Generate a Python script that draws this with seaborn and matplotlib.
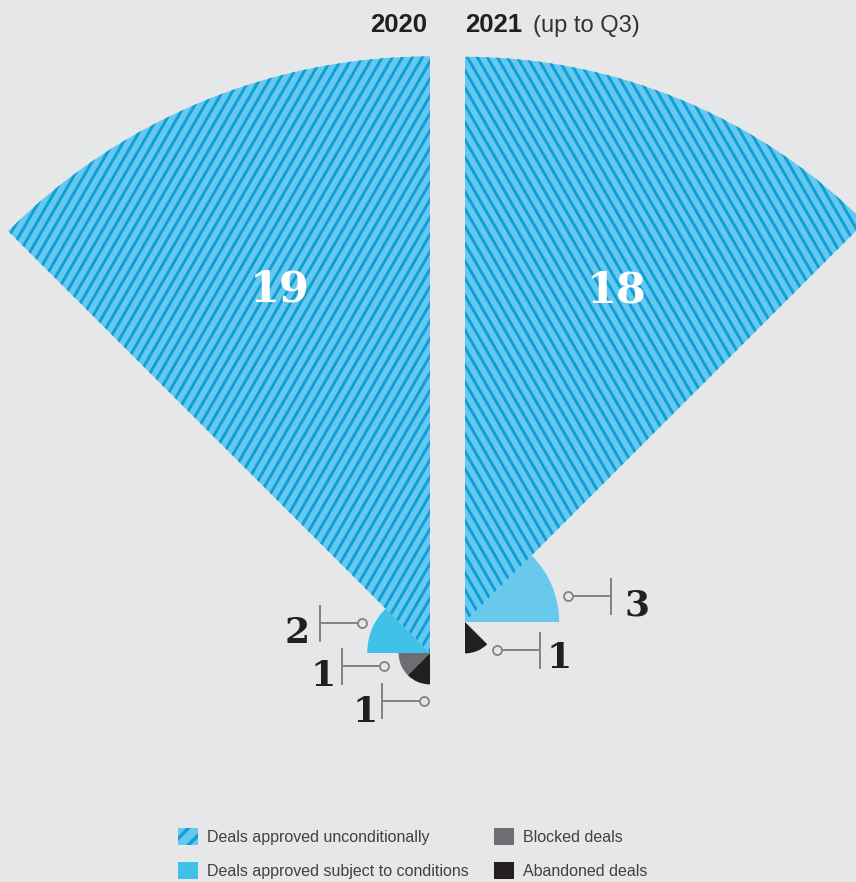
import numpy as np
import matplotlib
matplotlib.use("Agg")
import matplotlib.pyplot as plt
import seaborn as sns
from matplotlib.collections import LineCollection
from matplotlib.patches import Patch
from matplotlib.path import Path

# ---------------- data ----------------
categories = ["Deals approved unconditionally",
              "Deals approved subject to conditions",
              "Blocked deals",
              "Abandoned deals"]
values_2020 = [19, 2, 1, 1]
values_2021 = [18, 3, 0, 1]
year_labels = ["2020", "2021"]
subtitle_2021 = "(up to Q3)"

# ---------------- style ----------------
BG = "#e6e7e8"
HATCH_BASE = "#66c8ec"
HATCH_DARK = "#0c9fd8"
COND_2020 = "#3fc1e8"
COND_2021 = "#68c9ec"
BLOCKED = "#6d6e71"
ABANDONED = "#231f20"
GREY = "#808285"
INK = "#231f20"

sns.set_theme(style="white", rc={"figure.facecolor": BG, "axes.facecolor": BG,
                                 "savefig.facecolor": BG, "hatch.linewidth": 2.4})
plt.rcParams["font.family"] = ["Liberation Sans", "DejaVu Sans"]

W, H = 856, 882
fig = plt.figure(figsize=(W / 100, H / 100), dpi=100)

PX_PER_UNIT = 31.4
RMAX = 20
R_PX = RMAX * PX_PER_UNIT
SECTOR = np.pi / 4
theta_edges = np.arange(len(categories)) * SECTOR


def polar_ax(cx, cy, direction):
    ax = fig.add_axes([(cx - R_PX) / W, (H - cy - R_PX) / H, 2 * R_PX / W, 2 * R_PX / H],
                      projection="polar")
    ax.set_theta_zero_location("N")
    ax.set_theta_direction(direction)
    ax.set_ylim(0, RMAX)
    ax.set_axis_off()
    return ax


def add_stripes(ax, theta0, radius, sign, zorder):
    # clip region: the wedge, sampled in data space and expressed in axes fraction
    th = np.linspace(theta0, theta0 + SECTOR, 120)
    data_pts = np.vstack([[theta0, 0.0]] + [[t, radius] for t in th] + [[theta0, 0.0]])
    disp = ax.transData.transform(data_pts)
    frac = ax.transAxes.inverted().transform(disp)
    clip = Path(frac, closed=True)

    period = 10 / (2 * R_PX)
    ang = np.deg2rad(60)
    dx, dy = np.cos(ang), np.sin(ang) * sign
    L = 1.2
    segs = [[(c - dx * L, 0.5 - dy * L), (c + dx * L, 0.5 + dy * L)]
            for c in np.arange(-0.6, 1.6, period)]
    lc = LineCollection(segs, colors=HATCH_DARK, linewidths=2.1,
                        transform=ax.transAxes, zorder=zorder)
    ax.add_collection(lc, autolim=False)
    lc.set_clip_path(clip, ax.transAxes)


def draw_chart(ax, values, cond_color, stripe_sign, label_angle_deg, label_frac):
    colors = [HATCH_BASE, cond_color, BLOCKED, ABANDONED]
    bars = ax.bar(theta_edges, values, width=SECTOR, align="edge",
                  color=colors, linewidth=0, zorder=2)
    add_stripes(ax, theta_edges[0], values[0], stripe_sign, zorder=2.5)
    ax.text(np.deg2rad(label_angle_deg), values[0] * label_frac, str(values[0]),
            ha="center", va="center", color="white", fontsize=31,
            fontfamily="DejaVu Serif", fontweight="bold", zorder=5)
    return bars


ax20 = polar_ax(430, 653, 1)
draw_chart(ax20, values_2020, COND_2020, 1, 22.5, 0.66)
ax21 = polar_ax(465, 622, -1)
draw_chart(ax21, values_2021, COND_2021, -1, 24.5, 0.645)

# ---------------- overlay for titles / leaders ----------------
ov = fig.add_axes([0, 0, 1, 1])
ov.set_xlim(0, W)
ov.set_ylim(H, 0)
ov.set_axis_off()

ov.text(399, 32, year_labels[0], ha="center", va="baseline", fontsize=18.5,
        fontweight="bold", color=INK)
ov.text(465, 32, year_labels[1], ha="left", va="baseline", fontsize=18.5,
        fontweight="bold", color=INK)
ov.text(533, 32, subtitle_2021, ha="left", va="baseline", fontsize=17,
        color="#333333")


def leader(value, circ_x, y, bar_x, text_x, baseline, half=18.5):
    ov.plot([circ_x, bar_x], [y, y], color=GREY, lw=1.4, solid_capstyle="butt")
    ov.plot([bar_x, bar_x], [y - half, y + half], color=GREY, lw=1.4,
            solid_capstyle="butt")
    ov.plot([circ_x], [y], marker="o", ms=6.5, mfc=BG, mec=GREY, mew=1.3)
    ov.text(text_x, baseline, str(value), ha="center", va="baseline",
            fontsize=26, fontfamily="DejaVu Serif", fontweight="bold", color=INK)


leader(values_2020[1], 362, 623, 320, 297, 643)
leader(values_2020[2], 384, 666, 342, 323, 686)
leader(values_2020[3], 424, 701, 382, 365, 722, half=18)
leader(values_2021[1], 568, 596, 611, 637, 615)
leader(values_2021[3], 497, 650, 540, 559, 668)

# ---------------- legend ----------------
handles = [Patch(facecolor=HATCH_BASE, edgecolor=HATCH_DARK, hatch="//", linewidth=0),
           Patch(facecolor=COND_2020, linewidth=0),
           Patch(facecolor=BLOCKED, linewidth=0),
           Patch(facecolor=ABANDONED, linewidth=0)]
fig.legend(handles, categories, ncol=2, loc="upper left",
           bbox_to_anchor=(178 / W, 1 - 828 / H), frameon=False, fontsize=11.5,
           handlelength=1.25, handleheight=1.25, handletextpad=0.55,
           labelspacing=1.1, columnspacing=1.6, borderpad=0, borderaxespad=0,
           labelcolor="#414042")

fig.savefig("out.png", dpi=100)
